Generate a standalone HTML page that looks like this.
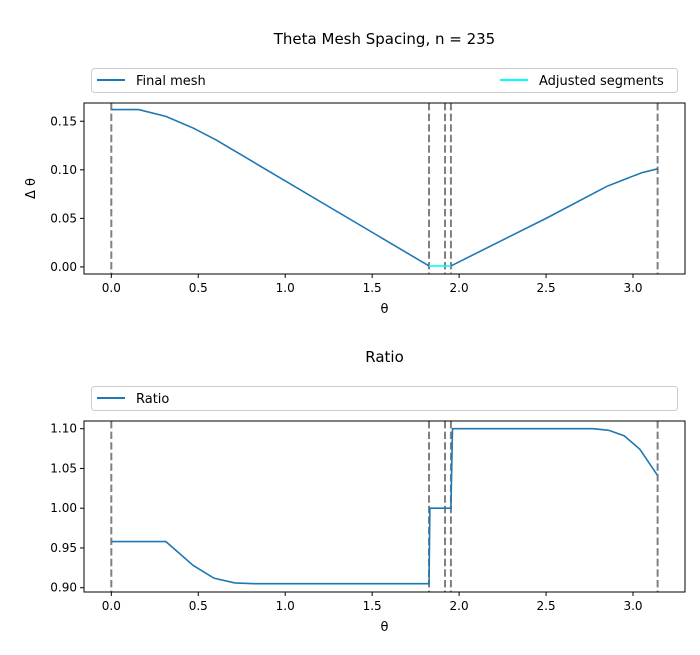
<!DOCTYPE html>
<html><head><meta charset="utf-8"><style>
body{margin:0;background:#fff}
svg{font-family:"DejaVu Sans","Liberation Sans",sans-serif}
</style></head><body>
<svg id="c" width="700" height="650"></svg>
<script>
const vlines=[0,1.827,1.919,1.953,3.14159];
const meshX=[0,0.157,0.314,0.471,0.6,1.827];
const meshY=[0.162,0.162,0.155,0.143,0.131,0.001];
const adjX=[1.827,1.953];
const adjY=[0.001,0.001];
const mesh2X=[1.953,2.5,2.85,2.95,3.05,3.14159];
const mesh2Y=[0.001,0.050,0.083,0.090,0.097,0.101];
const ratioX=[0,0.157,0.314,0.471,0.59,0.71,0.82,1.827,1.832,1.953,1.962,2.77,2.86,2.95,3.04,3.14159];
const ratioY=[0.958,0.958,0.958,0.928,0.912,0.906,0.905,0.905,1.0,1.0,1.1,1.1,1.098,1.091,1.074,1.041];
const xTicks=[0,0.5,1,1.5,2,2.5,3];
const yTicks1=[0,0.05,0.1,0.15];
const yTicks2=[0.9,0.95,1.0,1.05,1.1];
const NS="http://www.w3.org/2000/svg";
const svg=document.getElementById('c');
function el(t,a,txt){const e=document.createElementNS(NS,t);for(const k in a)e.setAttribute(k,a[k]);if(txt!==undefined)e.textContent=txt;svg.appendChild(e);return e;}
const L=84,R=685,x0=-0.157,x1=3.299;
const X=v=>L+(v-x0)/(x1-x0)*(R-L);
function panel(top,bot,y0,y1,yt,fmt,name,title,titleY,legY,ylab){
 const Y=v=>bot-(v-y0)/(y1-y0)*(bot-top);
 const t=el('text',{x:384.5,y:titleY,'text-anchor':'middle','font-size':15});t.textContent=title;
 
 vlines.forEach(v=>{const l=el('line',{x1:X(v),x2:X(v),y1:top,y2:bot,stroke:'#808080','stroke-width':2,'stroke-dasharray':'7.4,3.2'});
  });
 xTicks.forEach(v=>{el('line',{x1:X(v),x2:X(v),y1:bot,y2:bot+4,stroke:'#000'});
  const tt=el('text',{x:X(v),y:bot+18,'text-anchor':'middle','font-size':12},v.toFixed(1));
  });
 yt.forEach(v=>{el('line',{x1:L-4,x2:L,y1:Y(v),y2:Y(v),stroke:'#000'});
  const tt=el('text',{x:L-7,y:Y(v)+4,'text-anchor':'end','font-size':12},v.toFixed(fmt));
  });
 const xl=el('text',{x:384.5,y:bot+39,'text-anchor':'middle','font-size':13},'θ');
 
 if(ylab){const yl=el('text',{x:0,y:0,'text-anchor':'middle','font-size':13,transform:`translate(35,${(top+bot)/2}) rotate(-90)`},ylab);
  }
 return Y;
}
function line(xs,ys,Y,col,name){const p=el('polyline',{points:xs.map((v,i)=>X(v)+','+Y(ys[i])).join(' '),fill:'none',stroke:col,'stroke-width':1.6});
 }
const Y1=panel(103,274,-0.0073,0.1688,yTicks1,2,'mesh','Theta Mesh Spacing, n = 235',44,0,'Δ θ');
line(meshX,meshY,Y1,'#1f77b4','final-mesh-line');
line(mesh2X,mesh2Y,Y1,'#1f77b4','final-mesh-line-2');
line(adjX,adjY,Y1,'#00ffff','adjusted-segments-line');
el('rect',{x:L,y:103,width:R-L,height:171,fill:'none',stroke:'#000'});
let lg=el('rect',{x:91.5,y:68.5,width:586,height:24,rx:3,fill:'#fff',stroke:'#ccc'});

el('line',{x1:97,x2:125,y1:80,y2:80,stroke:'#1f77b4','stroke-width':2});
let lt=el('text',{x:136,y:85,'font-size':13},'Final mesh');
el('line',{x1:500,x2:528,y1:80,y2:80,stroke:'#00ffff','stroke-width':2});
lt=el('text',{x:539,y:85,'font-size':13},'Adjusted segments');
const Y2=panel(421,592,0.8946,1.1097,yTicks2,2,'ratio','Ratio',362,0,null);
line(ratioX,ratioY,Y2,'#1f77b4','ratio-line');
el('rect',{x:L,y:421,width:R-L,height:171,fill:'none',stroke:'#000'});
lg=el('rect',{x:91.5,y:386.5,width:586,height:24,rx:3,fill:'#fff',stroke:'#ccc'});

el('line',{x1:97,x2:125,y1:398,y2:398,stroke:'#1f77b4','stroke-width':2});
lt=el('text',{x:136,y:403,'font-size':13},'Ratio');
</script>
</body></html>
